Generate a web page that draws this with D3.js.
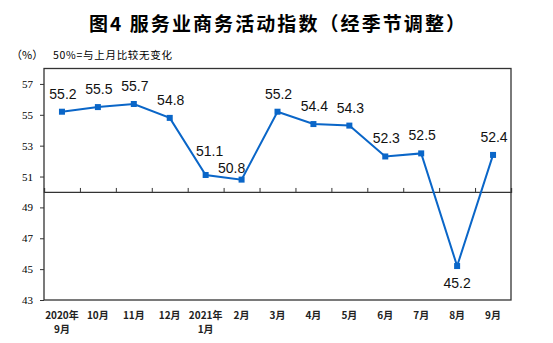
<!DOCTYPE html>
<html><head><meta charset="utf-8">
<script src="https://cdn.jsdelivr.net/npm/d3@7"></script>
<style>body{margin:0;background:#fff;}svg{display:block;}</style>
</head><body>
<script>
const categories = ["2020年\n9月","10月","11月","12月","2021年\n1月","2月","3月","4月","5月","6月","7月","8月","9月"];
const values = [55.2,55.5,55.7,54.8,51.1,50.8,55.2,54.4,54.3,52.3,52.5,45.2,52.4];
const yTicks = [43,45,47,49,51,53,55,57];
const title = "图4 服务业商务活动指数（经季节调整）";
const unitLabel = "（%）";
const note = "50%=与上月比较无变化";

const W = 553, H = 343;
const m = {left:44, right:511, top:68.5, bottom:300};
const svg = d3.select("body").append("svg").attr("width",W).attr("height",H);
const cjk = "'Noto Sans CJK SC', sans-serif";

svg.append("text").attr("x",89).attr("y",31)
  .attr("font-family",cjk).attr("font-weight","bold").attr("font-size",19).attr("fill","#000")
  .attr("textLength",376).attr("lengthAdjust","spacing").text(title);
svg.append("text").attr("x",11).attr("y",59).attr("font-family",cjk).attr("font-size",11).attr("fill","#000")
  .text(unitLabel);
svg.append("text").attr("x",53).attr("y",59).attr("font-family",cjk).attr("font-size",10.5).attr("fill","#000")
  .attr("textLength",119).attr("lengthAdjust","spacing").text(note);

const x = d3.scaleBand().domain(d3.range(categories.length)).range([m.left,m.right]);
const y = d3.scaleLinear().domain([43,58]).range([m.bottom,m.top]);

// frame
svg.append("rect").attr("x",m.left).attr("y",m.top).attr("width",m.right-m.left).attr("height",m.bottom-m.top)
  .attr("fill","none").attr("stroke","#333").attr("stroke-width",1.3);

// y axis
const yAxis = d3.axisLeft(y).tickValues(yTicks).tickSize(4).tickPadding(7);
const gy = svg.append("g").attr("transform",`translate(${m.left},0)`).call(yAxis);
gy.select(".domain").remove();
gy.selectAll("line").attr("stroke","#333");
gy.selectAll("text").attr("font-family","'Liberation Serif', serif").attr("font-size",11).attr("fill","#000");

// 50 line with upward ticks between categories
const x50 = y(50);
const xAxis = d3.axisTop(d3.scaleLinear().domain([0,categories.length]).range([m.left,m.right]))
  .tickValues(d3.range(1,categories.length)).tickSize(4).tickFormat("");
const gx = svg.append("g").attr("transform",`translate(0,${x50})`).call(xAxis);
gx.select(".domain").attr("stroke","#333").attr("stroke-width",1.3);
gx.selectAll("line").attr("stroke","#333");

// category labels
const lab = svg.append("g");
categories.forEach((c,i)=>{
  const cx = x(i)+x.bandwidth()/2;
  const t = lab.append("text").attr("x",cx).attr("y",319).attr("text-anchor","middle")
    .attr("font-family",cjk).attr("font-size",10).attr("font-weight","bold").attr("fill","#222");
  c.split("\n").forEach((s,j)=>{
    t.append("tspan").attr("x",cx).attr("dy",j===0?0:14).text(s);
  });
});

const color = "#0a66c8";
const line = d3.line().x((d,i)=>x(i)+x.bandwidth()/2).y(d=>y(d));
svg.append("path").datum(values).attr("d",line).attr("fill","none").attr("stroke",color).attr("stroke-width",2);
svg.selectAll("rect.pt").data(values).join("rect").attr("class","pt")
  .attr("x",(d,i)=>x(i)+x.bandwidth()/2-3).attr("y",d=>y(d)-3).attr("width",6).attr("height",6).attr("fill",color);

// data labels
const off = i => {
  if (i===4) return [4,-19];
  if (i===5) return [-10,-7];
  if (i===11) return [0,22];
  return [1,-13];
};
svg.selectAll("text.dl").data(values).join("text").attr("class","dl")
  .attr("x",(d,i)=>x(i)+x.bandwidth()/2+off(i)[0]).attr("y",(d,i)=>y(d)+off(i)[1])
  .attr("text-anchor","middle").attr("font-family","'Liberation Sans', Arial, sans-serif").attr("font-size",14)
  .attr("fill","#111").text(d=>d.toFixed(1));
</script>
</body></html>
